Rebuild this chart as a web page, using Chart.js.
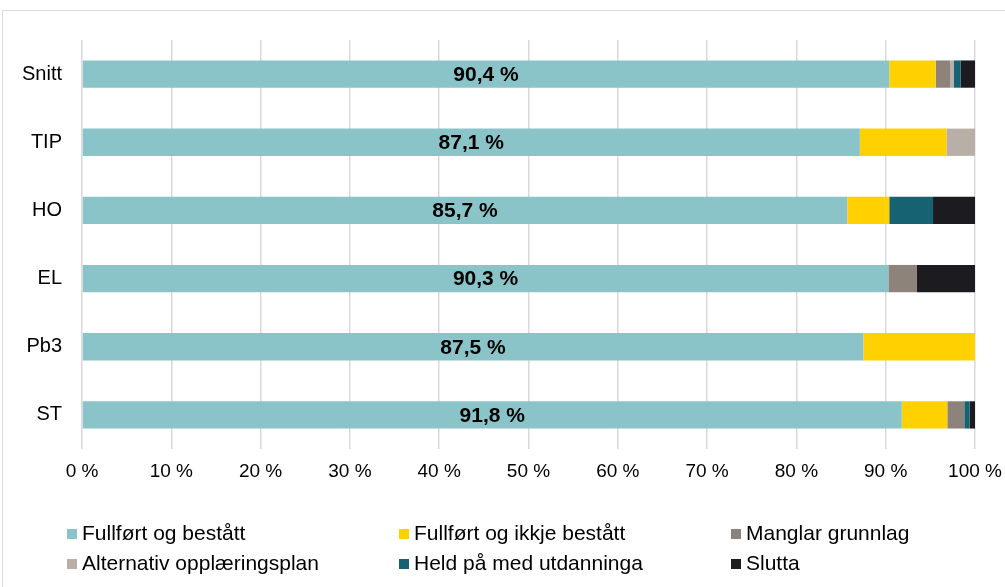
<!DOCTYPE html>
<html>
<head>
<meta charset="utf-8">
<script src="https://cdn.jsdelivr.net/npm/chart.js@4"></script>
<style>
  body { margin: 0; background: #fff; font-family: "Liberation Sans", Arial, sans-serif; overflow: hidden; }
  #wrap { position: relative; width: 1005px; height: 587px; overflow: hidden; }
  #frame { position: absolute; left: 2px; top: 10px; width: 1010px; height: 600px; border: 1px solid #dcdadc; }
  #myChart { position: absolute; left: 0; top: 0; }
  .item { position: absolute; font-size: 21px; color: #000; white-space: nowrap; line-height: 22px; }
  .item span { display: inline-block; width: 10px; height: 10px; margin-right: 5px; vertical-align: 1px; }
</style>
</head>
<body>
<div id="wrap">
  <div id="frame"></div>
  <canvas id="myChart" width="1005" height="587"></canvas>
  <div id="legend"></div>
</div>
<script>
var kategoriar = ["Snitt", "TIP", "HO", "EL", "Pb3", "ST"];
var serienamn = ["Fullført og bestått", "Fullført og ikkje bestått", "Manglar grunnlag",
                 "Alternativ opplæringsplan", "Held på med utdanninga", "Slutta"];
var fargar = ["#8AC4C8", "#FFD100", "#8E837A", "#B8AFA6", "#176272", "#1C1B1F"];

var fullfortBestatt   = [90.4, 87.1, 85.7, 90.3, 87.5, 91.8];
var fullfortIkkje     = [5.2, 9.7, 4.7, 0, 12.5, 5.1];
var manglarGrunnlag   = [1.6, 0, 0, 3.2, 0, 1.9];
var alternativPlan    = [0.4, 3.2, 0, 0, 0, 0];
var heldPaa           = [0.8, 0, 4.9, 0, 0, 0.6];
var slutta            = [1.6, 0, 4.7, 6.5, 0, 0.6];
var xTicks = [0, 10, 20, 30, 40, 50, 60, 70, 80, 90, 100];

var alleSeriar = [fullfortBestatt, fullfortIkkje, manglarGrunnlag, alternativPlan, heldPaa, slutta];

function pst(v) { return v.toFixed(1).replace(".", ",") + " %"; }

// etikett midt i den første serien
var etikettPlugin = {
  id: "etikettar",
  afterDatasetsDraw: function (chart) {
    var ctx = chart.ctx;
    var meta = chart.getDatasetMeta(0);
    ctx.save();
    ctx.font = "bold 21px 'Liberation Sans', Arial, sans-serif";
    ctx.fillStyle = "#000";
    ctx.textAlign = "center";
    ctx.textBaseline = "middle";
    meta.data.forEach(function (bar, i) {
      var x = (bar.x + bar.base) / 2;
      ctx.fillText(pst(fullfortBestatt[i]), x, bar.y + 1);
    });
    ctx.restore();
  }
};

var graficar = document.getElementById("myChart").getContext("2d");
var myChart = new Chart(graficar, {
  type: "bar",
  data: {
    labels: kategoriar,
    datasets: alleSeriar.map(function (d, i) {
      return { label: serienamn[i], data: d, backgroundColor: fargar[i], borderWidth: 0,
               barPercentage: 0.4, categoryPercentage: 1 };
    })
  },
  options: {
    indexAxis: "y",
    responsive: false,
    animation: false,
    layout: { padding: { left: 0, top: 40, right: 30, bottom: 104 } },
    plugins: { legend: { display: false }, tooltip: { enabled: false } },
    scales: {
      x: {
        stacked: true, min: 0, max: 100,
        afterBuildTicks: function (s) { s.ticks = xTicks.map(function (v) { return { value: v }; }); },
        afterFit: function (s) { s.height = 34; s.paddingRight = 0; s.paddingLeft = 0; },
        ticks: { color: "#000", font: { size: 19, family: "'Liberation Sans', Arial" }, padding: 11,
                 maxRotation: 0, callback: function (v) { return v + " %"; } },
        grid: { color: "#dcd7dc", lineWidth: 1.5, drawTicks: false },
        border: { display: false }
      },
      y: {
        stacked: true,
        afterFit: function (s) { s.width = 82; },
        ticks: { color: "#000", font: { size: 20, family: "'Liberation Sans', Arial" }, padding: 12 },
        grid: { display: false },
        border: { display: false }
      }
    }
  },
  plugins: [etikettPlugin]
});

// forklaring i tre kolonnar
var leg = document.getElementById("legend");
var kolX = [67, 399, 731];
var radY = [522, 552];
serienamn.forEach(function (n, i) {
  var d = document.createElement("div");
  d.className = "item";
  d.style.left = kolX[i % 3] + "px";
  d.style.top = radY[Math.floor(i / 3)] + "px";
  d.innerHTML = '<span style="background:' + fargar[i] + '"></span>' + n;
  leg.appendChild(d);
});
</script>
</body>
</html>
